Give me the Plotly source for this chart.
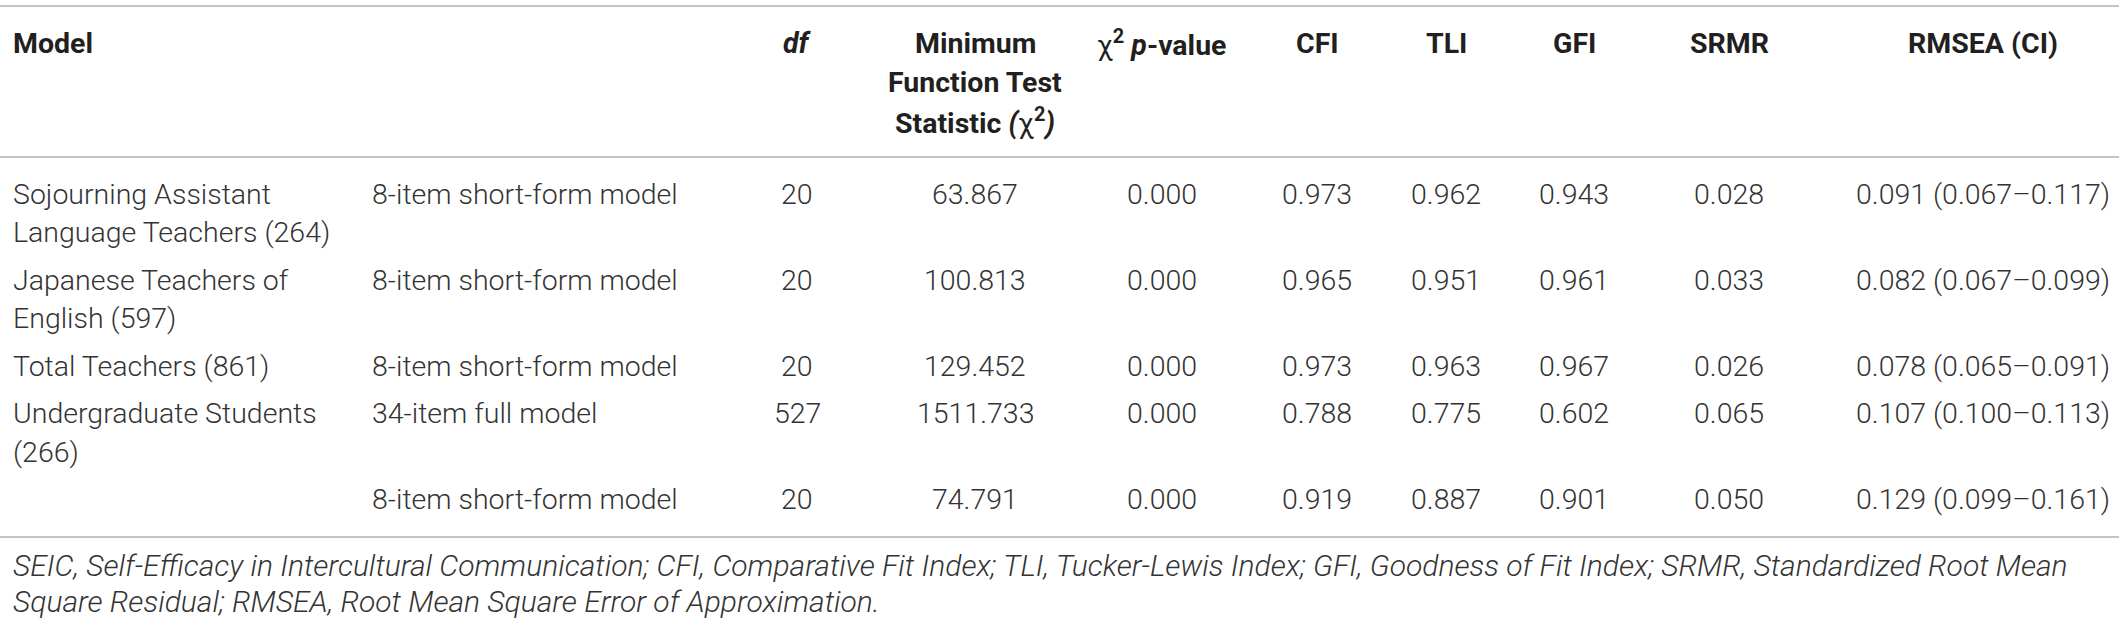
import plotly.graph_objects as go

# ---------------- data ----------------
header = [["<b>Model</b>"], [], ["<b><i>df</i></b>"],
          ["<b>Minimum</b>", "<b>Function Test</b>", "<b>Statistic <i>(</i></b>χ<b><sup>2</sup><i>)</i></b>"],
          ["χ<b><sup>2</sup> <i>p</i>-value</b>"], ["<b>CFI</b>"], ["<b>TLI</b>"], ["<b>GFI</b>"],
          ["<b>SRMR</b>"], ["<b>RMSEA (CI)</b>"]]
groups = ["Sojourning Assistant<br>Language Teachers (264)",
          "Japanese Teachers of<br>English (597)",
          "Total Teachers (861)",
          "Undergraduate Students<br>(266)",
          ""]
models = ["8-item short-form model", "8-item short-form model", "8-item short-form model",
          "34-item full model", "8-item short-form model"]
df_vals = [20, 20, 20, 527, 20]
chi2 = ["63.867", "100.813", "129.452", "1511.733", "74.791"]
pval = ["0.000", "0.000", "0.000", "0.000", "0.000"]
cfi = ["0.973", "0.965", "0.973", "0.788", "0.919"]
tli = ["0.962", "0.951", "0.963", "0.775", "0.887"]
gfi = ["0.943", "0.961", "0.967", "0.602", "0.901"]
srmr = ["0.028", "0.033", "0.026", "0.065", "0.050"]
rmsea = ["0.091", "0.082", "0.078", "0.107", "0.129"]
rmsea_lo = ["0.067", "0.067", "0.065", "0.100", "0.099"]
rmsea_hi = ["0.117", "0.099", "0.091", "0.113", "0.161"]
footnote = ["SEIC, Self-Efficacy in Intercultural Communication; CFI, Comparative Fit Index; TLI, Tucker-Lewis Index; GFI, Goodness of Fit Index; SRMR, Standardized Root Mean",
            "Square Residual; RMSEA, Root Mean Square Error of Approximation."]

# ---------------- layout constants ----------------
W, H = 2119, 622
col_x = [11, 370, 797, 975, 1162, 1317, 1446, 1574, 1729, 1983]
col_anchor = ["left", "left"] + ["center"] * 8
head_lines = [43, 82, 121]
line_h = 38.5
rule_top, rule_head, rule_bottom = 6, 157, 537
row_pad = 37    # from rule to first line centre
row_step = 47.5 # from last line centre of a row to first line centre of next row
foot_y = [565, 601]

body_font = dict(family="Roboto", size=28.5, color="#333333", weight=300)
head_font = dict(family="Roboto", size=28.5, color="#231f20")
foot_font = dict(family="Roboto", size=30, color="#333333", weight=300, style="italic")

fig = go.Figure()
fig.add_trace(go.Scatter(x=[0, W], y=[0, H], mode="markers",
                         marker=dict(opacity=0), hoverinfo="skip", showlegend=False))

ann = []
def put(x, y, text, anchor, font):
    ann.append(dict(x=x, y=y, xref="x", yref="y", text=text, showarrow=False,
                    xanchor=anchor, yanchor="middle", font=font, align=anchor))

# header
for j, parts in enumerate(header):
    for k, part in enumerate(parts):
        put(col_x[j], head_lines[k], part, col_anchor[j], head_font)

# body rows
rows = []
for i in range(len(models)):
    rows.append([groups[i], models[i], str(df_vals[i]), chi2[i], pval[i], cfi[i], tli[i],
                 gfi[i], srmr[i], f"{rmsea[i]} ({rmsea_lo[i]}–{rmsea_hi[i]})"])
y = rule_head + row_pad
for r in rows:
    nlines = 1
    for j, cell in enumerate(r):
        parts = cell.split("<br>") if cell else []
        nlines = max(nlines, len(parts))
        for k, part in enumerate(parts):
            put(col_x[j], y + k * line_h, part, col_anchor[j], body_font)
    y += (nlines - 1) * line_h + row_step

# footnote
for k, t in enumerate(footnote):
    put(col_x[0], foot_y[k], t, "left", foot_font)

shapes = [dict(type="line", xref="paper", yref="y", x0=0, x1=1, y0=yy, y1=yy,
               line=dict(color="#c4c4c4", width=2)) for yy in (rule_top, rule_head, rule_bottom)]

fig.update_layout(width=W, height=H, margin=dict(l=0, r=0, t=0, b=0),
                  paper_bgcolor="white", plot_bgcolor="white",
                  xaxis=dict(range=[0, W], visible=False, fixedrange=True),
                  yaxis=dict(range=[H, 0], visible=False, fixedrange=True),
                  annotations=ann, shapes=shapes, showlegend=False)
fig.write_html("out.html", config={"displayModeBar": False},
               post_script="document.body.style.margin='0';")
